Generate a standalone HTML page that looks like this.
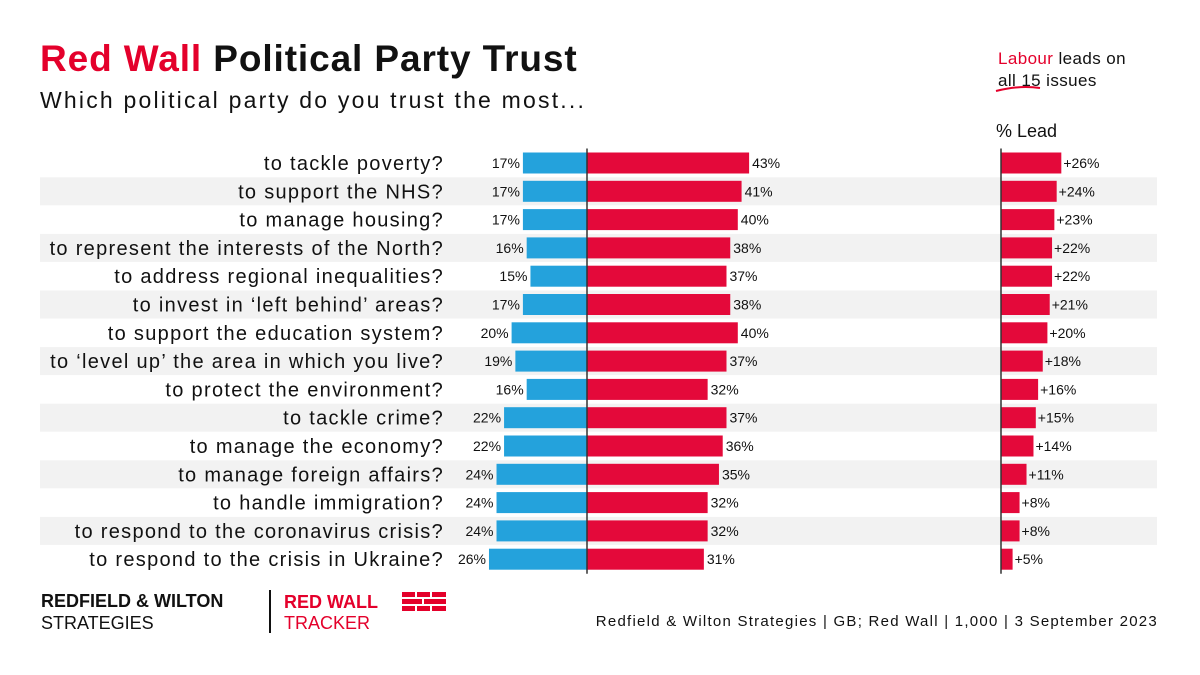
<!DOCTYPE html>
<html><head><meta charset="utf-8"><style>
body{margin:0;width:1200px;height:675px;background:#fff;font-family:"Liberation Sans",sans-serif;overflow:hidden;position:relative}
.abs{position:absolute}
</style></head><body>
<div class="abs" style="left:40px;top:38px;font-size:37px;font-weight:bold;color:#111;letter-spacing:0.9px"><span style="color:#e4002b">Red Wall</span> Political Party Trust</div>
<div class="abs" style="left:40px;top:87px;font-size:23px;color:#111;letter-spacing:2.2px">Which political party do you trust the most...</div>
<div class="abs" style="left:998px;top:48px;font-size:17px;line-height:22px;color:#111;letter-spacing:0.4px"><span style="color:#e4002b">Labour</span> leads on<br>all 15 issues</div>
<svg class="abs" style="left:994px;top:84px" width="50" height="10"><path d="M2 7 Q25 1 46 4" stroke="#e4002b" stroke-width="2" fill="none"/></svg>
<div class="abs" style="left:996px;top:121px;font-size:18px;color:#111">% Lead</div>
<svg id="chart" class="abs" style="left:0;top:0" width="1200" height="675"></svg>
<div class="abs" style="left:41px;top:590px;font-size:18px;line-height:22px;color:#111"><b>REDFIELD &amp; WILTON</b><br>STRATEGIES</div>
<div class="abs" style="left:269px;top:590px;width:2px;height:43px;background:#111"></div>
<div class="abs" style="left:284px;top:592px;font-size:18px;line-height:21px;color:#e4002b"><b>RED WALL</b><br>TRACKER</div>
<svg class="abs" style="left:402px;top:592px" width="44" height="20"><g fill="#e4002b"><rect x="0" y="0" width="13" height="5"/><rect x="15" y="0" width="13" height="5"/><rect x="30" y="0" width="14" height="5"/><rect x="0" y="7" width="20" height="5"/><rect x="22" y="7" width="22" height="5"/><rect x="0" y="14" width="13" height="5"/><rect x="15" y="14" width="13" height="5"/><rect x="30" y="14" width="14" height="5"/></g></svg>
<div class="abs" style="right:42px;top:613px;font-size:15px;color:#111;letter-spacing:1.25px">Redfield &amp; Wilton Strategies | GB; Red Wall | 1,000 | 3 September 2023</div>
<script>
const categories=["to tackle poverty?","to support the NHS?","to manage housing?","to represent the interests of the North?","to address regional inequalities?","to invest in \u2018left behind\u2019 areas?","to support the education system?","to \u2018level up\u2019 the area in which you live?","to protect the environment?","to tackle crime?","to manage the economy?","to manage foreign affairs?","to handle immigration?","to respond to the coronavirus crisis?","to respond to the crisis in Ukraine?"];
const conservative=[17,17,17,16,15,17,20,19,16,22,22,24,24,24,26];
const labour=[43,41,40,38,37,38,40,37,32,37,36,35,32,32,31];
const lead=[26,24,23,22,22,21,20,18,16,15,14,11,8,8,5];
const NS="http://www.w3.org/2000/svg",svg=document.getElementById('chart');
const axisX=587,scale=3.77,leadX=1001,leadScale=2.32,y0=163,step=28.3,bh=21;
const y=i=>y0+i*step;
function mk(t,a,p){const e=document.createElementNS(NS,t);for(const k in a)e.setAttribute(k,a[k]);(p||svg).appendChild(e);return e;}
categories.forEach((c,i)=>{
 if(i%2==1){const b=mk('rect',{x:40,y:y(i)-14,width:1117,height:28,fill:'#f2f2f2'});
 
 }
});
categories.forEach((c,i)=>{
 const cy=y(i);
 const l=mk('text',{x:444,y:cy+7,'text-anchor':'end','font-size':20,fill:'#111','letter-spacing':'1.3'});l.textContent=c;
 
 
 const cw=conservative[i]*scale;
 const bc=mk('rect',{x:axisX-cw,y:cy-bh/2,width:cw,height:bh,fill:'#24a2dc'});
 
 
 const tc=mk('text',{x:axisX-cw-3,y:cy+5,'text-anchor':'end','font-size':14,fill:'#111'});tc.textContent=conservative[i]+'%';
 
 
 const lw=labour[i]*scale;
 const bl=mk('rect',{x:axisX,y:cy-bh/2,width:lw,height:bh,fill:'#e4093a'});
 
 
 const tl=mk('text',{x:axisX+lw+3,y:cy+5,'font-size':14,fill:'#111'});tl.textContent=labour[i]+'%';
 
 
 const dw=lead[i]*leadScale;
 const bd=mk('rect',{x:leadX,y:cy-bh/2,width:dw,height:bh,fill:'#e4093a'});
 
 
 const td=mk('text',{x:leadX+dw+2,y:cy+5,'font-size':14,fill:'#111'});td.textContent='+'+lead[i]+'%';
 
 
});
const a1=mk('line',{x1:axisX,x2:axisX,y1:y(0)-bh/2-4,y2:y(14)+bh/2+4,stroke:'#333','stroke-width':1.5});


const a2=mk('line',{x1:leadX,x2:leadX,y1:y(0)-bh/2-4,y2:y(14)+bh/2+4,stroke:'#333','stroke-width':1.5});


</script>
</body></html>
